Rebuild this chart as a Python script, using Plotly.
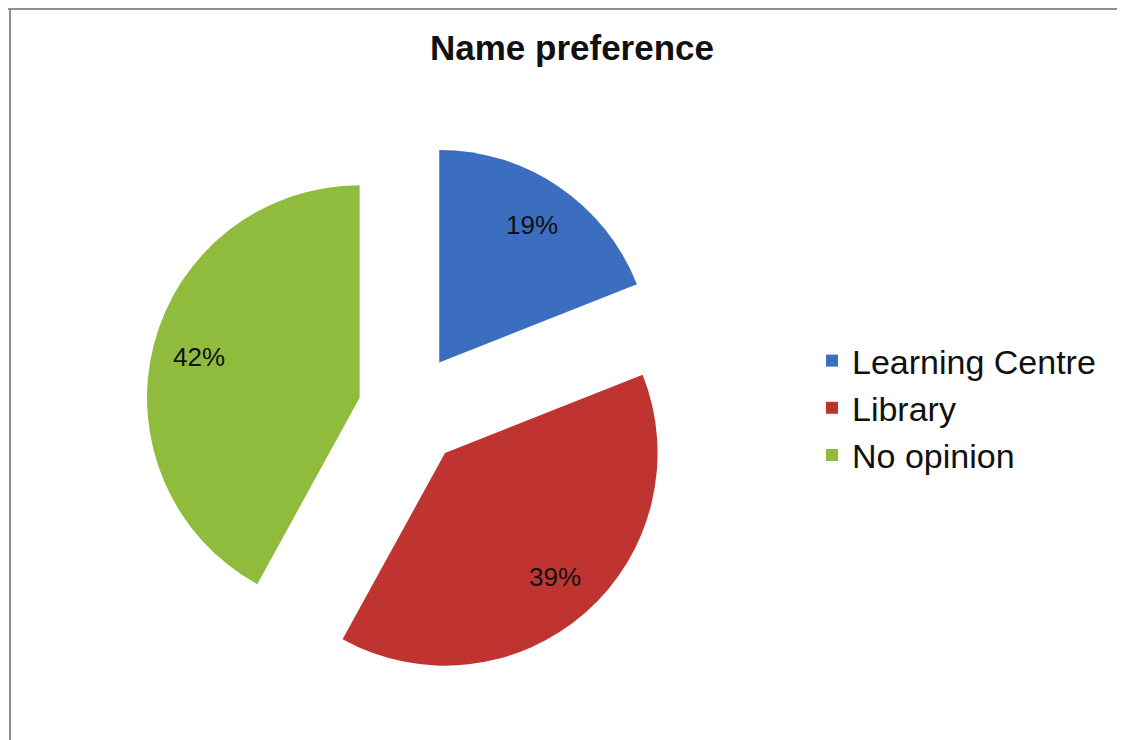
import math
import plotly.graph_objects as go

categories = ["Learning Centre", "Library", "No opinion"]
values = [19, 39, 42]
colors = ["#3b6ebf", "#bf3430", "#8fbc3c"]
pulls = [0.27, 0.27, 0.23]
title_text = "Name preference"

# The page body has an 8px margin, so the figure is sized to fit the window.
W, H = 1117, 732
LABEL_FRAC = 0.78  # label distance along each slice's mid-ray, as a fraction of radius

dom_x = [129 / W, 669 / W]
dom_y = [1 - 672 / H, 1 - 132 / H]

font_family = "Liberation Sans, Arial, sans-serif"

fig = go.Figure(
    go.Pie(
        labels=categories,
        values=values,
        sort=False,
        direction="clockwise",
        rotation=0,
        pull=pulls,
        marker=dict(colors=colors, line=dict(width=0)),
        textinfo="none",
        domain=dict(x=dom_x, y=dom_y),
        hoverinfo="label+percent",
    )
)

# percentage labels placed along each slice's mid-angle (as in the source chart)
total = sum(values)
max_pull = max(pulls)
cx = (dom_x[0] + dom_x[1]) / 2 * W
cy = (dom_y[0] + dom_y[1]) / 2 * H
r_px = min((dom_x[1] - dom_x[0]) * W, (dom_y[1] - dom_y[0]) * H) / (2 * (1 + max_pull))
annotations = []
cum = 0.0
for v, p in zip(values, pulls):
    frac = v / total
    mid = (cum + frac / 2) * 2 * math.pi
    cum += frac
    dist = (p + LABEL_FRAC) * r_px
    px = cx + dist * math.sin(mid)
    py = cy + dist * math.cos(mid)
    annotations.append(dict(
        x=px / W, y=py / H, xref="paper", yref="paper",
        text=f"{round(frac * 100)}%", showarrow=False,
        xanchor="center", yanchor="middle",
        font=dict(family=font_family, size=26, color="#111111"),
    ))

fig.update_layout(
    width=W,
    height=H,
    margin=dict(l=0, r=0, t=0, b=0),
    paper_bgcolor="white",
    plot_bgcolor="white",
    title=dict(
        text="<b>" + title_text + "</b>",
        x=564 / W,
        xanchor="center",
        y=1 - 40 / H,
        yanchor="middle",
        font=dict(family=font_family, size=35, color="#111111"),
    ),
    legend=dict(
        x=804 / W,
        xanchor="left",
        y=1 - 400 / H,
        yanchor="middle",
        font=dict(family=font_family, size=34, color="#111111"),
        bgcolor="rgba(0,0,0,0)",
    ),
    annotations=annotations,
    shapes=[
        dict(type="line", xref="paper", yref="paper", x0=0, x1=1, y0=1 - 1 / H, y1=1 - 1 / H,
             line=dict(color="#8f8f8f", width=2)),
        dict(type="line", xref="paper", yref="paper", x0=2 / W, x1=2 / W, y0=0, y1=1,
             line=dict(color="#8f8f8f", width=2)),
    ],
)

fig.write_html("out.html")
